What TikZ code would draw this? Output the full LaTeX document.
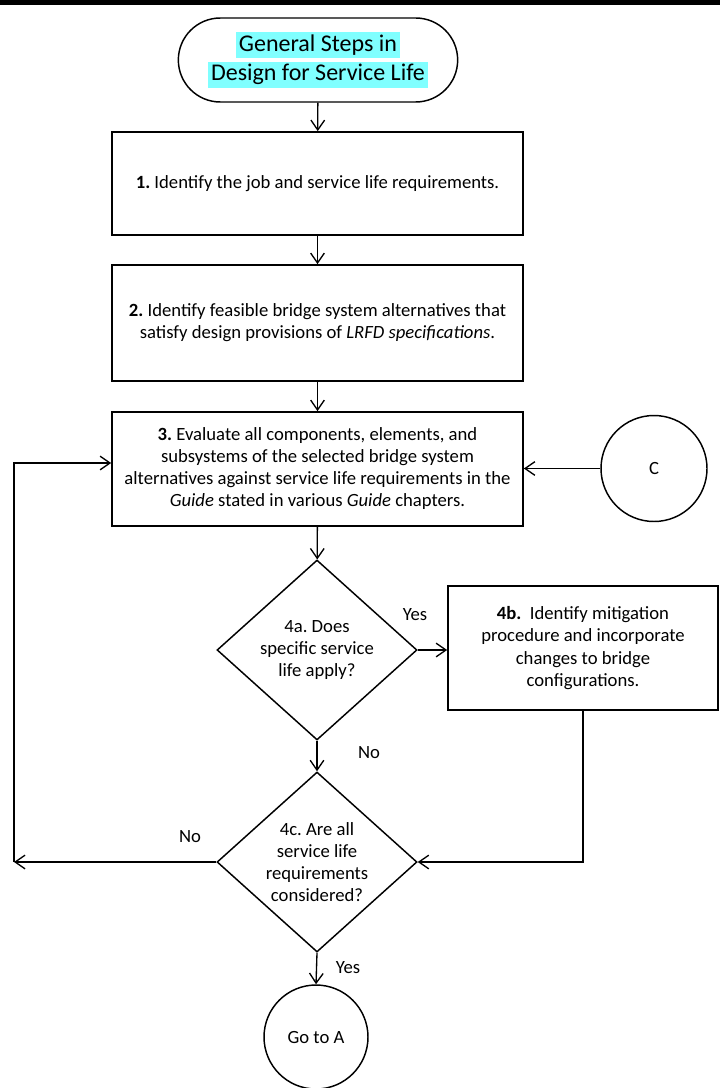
\documentclass[tikz,border=0pt]{standalone}
\usepackage{fontspec}
\setmainfont{Carlito}
\usepackage{xcolor}
\usepackage{tikz}
\usetikzlibrary{arrows.meta,positioning,calc,shapes.geometric,shapes.misc}
\definecolor{hlcyan}{HTML}{80FFFF}
\newcommand{\hlline}[1]{{\setlength{\fboxsep}{2pt}\colorbox{hlcyan}{#1}}}
\frenchspacing

\begin{document}
\begin{tikzpicture}[
                x=0.75pt, y=-0.75pt,
                font=\fontsize{14}{16.5}\selectfont,
                stepbox/.style={draw, line width=1.3pt, align=center, minimum width=308.25pt, inner sep=2pt},
                startbox/.style={draw, line width=1.1pt, rounded rectangle, align=center, minimum width=211.5pt, minimum height=63pt, inner sep=1pt, font=\fontsize{18}{21.75}\selectfont},
                decision/.style={draw, line width=1.1pt, diamond, aspect=1.11, align=center, inner sep=0pt, minimum width=150pt, minimum height=135pt},
                connector/.style={draw, line width=1.1pt, circle, inner sep=0pt},
                lbl/.style={inner sep=1pt},
                flow/.style={-{Straight Barb[length=2.6mm,width=3.6mm]}, line width=1pt}
            ]
            \useasboundingbox (0,0) rectangle (720,1088);
            \fill[black] (0,0.5) rectangle (720,5.5);
            % main column
            \node[startbox] (start) at (318,60) {\hlline{General Steps in}\\\hlline{Design for Service Life}};
            \node[stepbox, minimum height=77.25pt] (s1) at (317.5,183.5) {\textbf{1.} Identify the job and service life requirements.};
            \node[stepbox, minimum height=87pt] (s2) at (317.5,323) {\textbf{2.} Identify feasible bridge system alternatives that\\satisfy design provisions of \textit{LRFD specifications}.};
            \node[stepbox, minimum height=85.5pt] (s3) at (317.5,469) {\textbf{3.} Evaluate all components, elements, and\\subsystems of the selected bridge system\\alternatives against service life requirements in the\\\textit{Guide} stated in various \textit{Guide} chapters.};
            \node[connector, minimum size=79.5pt] (conc) at (654,468.5) {C};
            \node[decision] (d4a) at (317,650) {4a. Does\\specific service\\life apply?};
            \node[stepbox, minimum width=202.5pt, minimum height=93pt, font=\fontsize{14}{16.75}\selectfont] (s4b) at (583,648) {\textbf{4b.}~ Identify mitigation\\procedure and incorporate\\changes to bridge\\configurations.};
            \node[decision] (d4c) at (317,862) {4c. Are all\\service life\\requirements\\considered?};
            \node[connector, minimum size=78pt] (gotoa) at (316,1037) {Go to A};
            % loop corners
            \coordinate (loopbl) at (14,862);
            \coordinate (looptl) at (14,463);
            % labels
            \node[lbl] (yes1) at (415,615) {Yes};
            \node[lbl] (no1) at (369,753) {No};
            \node[lbl] (no2) at (190,837) {No};
            \node[lbl] (yes2) at (348,968) {Yes};
            % connectors
            \draw[flow] (start) -- (s1);
            \draw[flow] (s1) -- (s2);
            \draw[flow] (s2) -- (s3);
            \draw[flow] (s3) -- (d4a);
            \draw[flow] (conc.west) -- (conc.west -| s3.east);
            \draw[flow] (d4a.east) -- (d4a.east -| s4b.west);
            \draw[flow] (d4a.south) -- (d4c.north);
            \draw[flow] (s4b.south) |- (d4c.east);
            \draw[flow] (d4c.west) -- (loopbl);
            \draw[flow] (loopbl) -- (looptl) -- (looptl -| s3.west);
            \draw[flow] (d4c.south) -- (gotoa.north);
        \end{tikzpicture}
\end{document}
